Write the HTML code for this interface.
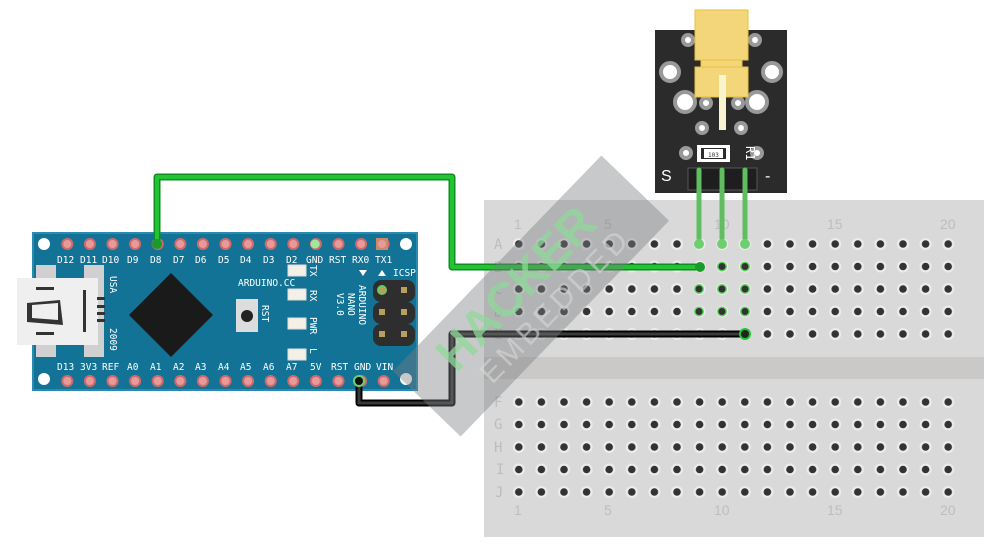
<!DOCTYPE html>
<html><head><style>
html,body{margin:0;padding:0;background:#fff;width:1003px;height:546px;overflow:hidden}
svg text{font-family:"DejaVu Sans Mono","Liberation Mono",monospace}
</style></head><body>
<svg width="1003" height="546" viewBox="0 0 1003 546" xmlns="http://www.w3.org/2000/svg">
<defs>
<pattern id="bb" x="507.5" y="0" width="22.6" height="600" patternUnits="userSpaceOnUse">
<circle cx="11.3" cy="244" r="6" fill="#ececec"/><circle cx="11.3" cy="244" r="3.8" fill="#333"/>
<circle cx="11.3" cy="266.5" r="6" fill="#ececec"/><circle cx="11.3" cy="266.5" r="3.8" fill="#333"/>
<circle cx="11.3" cy="289" r="6" fill="#ececec"/><circle cx="11.3" cy="289" r="3.8" fill="#333"/>
<circle cx="11.3" cy="311.5" r="6" fill="#ececec"/><circle cx="11.3" cy="311.5" r="3.8" fill="#333"/>
<circle cx="11.3" cy="334" r="6" fill="#ececec"/><circle cx="11.3" cy="334" r="3.8" fill="#333"/>
<circle cx="11.3" cy="402" r="6" fill="#ececec"/><circle cx="11.3" cy="402" r="3.8" fill="#333"/>
<circle cx="11.3" cy="424.5" r="6" fill="#ececec"/><circle cx="11.3" cy="424.5" r="3.8" fill="#333"/>
<circle cx="11.3" cy="447" r="6" fill="#ececec"/><circle cx="11.3" cy="447" r="3.8" fill="#333"/>
<circle cx="11.3" cy="469.5" r="6" fill="#ececec"/><circle cx="11.3" cy="469.5" r="3.8" fill="#333"/>
<circle cx="11.3" cy="492" r="6" fill="#ececec"/><circle cx="11.3" cy="492" r="3.8" fill="#333"/>
</pattern>
<pattern id="pt" x="56" y="0" width="22.6" height="600" patternUnits="userSpaceOnUse">
<circle cx="11.3" cy="244" r="6" fill="#d06a6a"/><circle cx="11.3" cy="244" r="4" fill="#e89a9a"/>
<circle cx="11.3" cy="381" r="6" fill="#d06a6a"/><circle cx="11.3" cy="381" r="4" fill="#e89a9a"/>
</pattern>
</defs>
<!-- breadboard -->
<rect x="484" y="200" width="500" height="337" fill="#d9d9d9"/>
<rect x="484" y="357" width="500" height="22" fill="#cbc9c7"/>
<rect x="507.5" y="230" width="452" height="300" fill="url(#bb)"/>
<g fill="#bdbdbd" font-size="14">
<text x="514" y="229" style="font-family:Liberation Sans">1</text><text x="604" y="229" style="font-family:Liberation Sans">5</text><text x="714" y="229" style="font-family:Liberation Sans">10</text><text x="827" y="229" style="font-family:Liberation Sans">15</text><text x="940" y="229" style="font-family:Liberation Sans">20</text>
<text x="514" y="515" style="font-family:Liberation Sans">1</text><text x="604" y="515" style="font-family:Liberation Sans">5</text><text x="714" y="515" style="font-family:Liberation Sans">10</text><text x="827" y="515" style="font-family:Liberation Sans">15</text><text x="940" y="515" style="font-family:Liberation Sans">20</text>
<g style="font-family:Liberation Sans">
<text x="494" y="249">A</text><text x="494" y="272">B</text><text x="494" y="294">C</text><text x="494" y="317">D</text><text x="494" y="339">E</text>
<text x="494" y="407">F</text><text x="494" y="429">G</text><text x="494" y="452">H</text><text x="496" y="474">I</text><text x="495" y="497">J</text></g>
</g>
<g fill="#5fd35f"><circle cx="699" cy="289" r="5"/><circle cx="722" cy="289" r="5"/><circle cx="745" cy="289" r="5"/><circle cx="699" cy="311.5" r="5"/><circle cx="722" cy="311.5" r="5"/><circle cx="745" cy="311.5" r="5"/><circle cx="722" cy="266.5" r="5"/><circle cx="745" cy="266.5" r="5"/></g>
<g fill="#333"><circle cx="699" cy="289" r="3.5"/><circle cx="722" cy="289" r="3.5"/><circle cx="745" cy="289" r="3.5"/><circle cx="699" cy="311.5" r="3.5"/><circle cx="722" cy="311.5" r="3.5"/><circle cx="745" cy="311.5" r="3.5"/><circle cx="722" cy="266.5" r="3.5"/><circle cx="745" cy="266.5" r="3.5"/></g>
<!-- laser module -->
<rect x="655" y="30" width="132" height="163" fill="#2b2b2b"/>
<g fill="#fff" stroke="#999" stroke-width="4">
<circle cx="688" cy="40" r="5"/><circle cx="755" cy="40" r="5"/>
<circle cx="670" cy="72" r="9"/><circle cx="772" cy="72" r="9"/>
<circle cx="685" cy="102" r="10"/><circle cx="757" cy="102" r="10"/>
<circle cx="706" cy="103" r="5"/><circle cx="738" cy="103" r="5"/>
<circle cx="702" cy="128" r="5"/><circle cx="741" cy="128" r="5"/>
<circle cx="686" cy="153" r="5"/><circle cx="757" cy="153" r="5"/>
</g>
<rect x="695" y="10" width="53" height="50" fill="#f3d57a" stroke="#e8c23e"/>
<rect x="701" y="60" width="41" height="8" fill="#f3d57a" stroke="#e8c23e"/>
<rect x="695" y="67" width="53" height="30" fill="#f3d57a" stroke="#e8c23e"/>
<rect x="719" y="75" width="7" height="55" fill="#f8f4d0"/>
<rect x="697" y="145" width="33" height="17" fill="#fff"/><rect x="701" y="148" width="25" height="11" fill="#2b2b2b"/><rect x="704" y="149" width="19" height="9" fill="#fff"/>
<text x="708" y="157" font-size="6" fill="#333">103</text>
<text x="733" y="147" font-size="12" fill="#fff" transform="rotate(90 740 153)">R1</text>
<text x="661" y="181" font-size="16" fill="#fff" style="font-family:Liberation Sans">S</text>
<text x="765" y="181" font-size="16" fill="#fff" style="font-family:Liberation Sans">-</text>
<rect x="688" y="168" width="69" height="22" fill="#1e1e1e" stroke="#555"/>
<!-- arduino -->
<rect x="33" y="233" width="384" height="157" fill="#137396" stroke="#2a8ab0" stroke-width="2"/>
<circle cx="44" cy="244" r="6" fill="#fff"/><circle cx="406" cy="244" r="6" fill="#fff"/>
<circle cx="44" cy="379" r="6" fill="#fff"/><circle cx="406" cy="379" r="6" fill="#fff"/>
<rect x="56" y="235" width="340" height="155" fill="url(#pt)"/>
<circle cx="315" cy="244" r="4.5" fill="#9ee89e"/>
<rect x="376" y="238" width="12" height="12" fill="#c98a6a"/><circle cx="382" cy="244" r="4" fill="#e89a9a"/>
<g fill="#fff" font-size="9.5">
<text x="57" y="263">D12</text><text x="80" y="263">D11</text><text x="102" y="263">D10</text><text x="127" y="263">D9</text><text x="150" y="263">D8</text><text x="173" y="263">D7</text><text x="195" y="263">D6</text><text x="218" y="263">D5</text><text x="240" y="263">D4</text><text x="263" y="263">D3</text><text x="286" y="263">D2</text><text x="306" y="263">GND</text><text x="329" y="263">RST</text><text x="352" y="263">RX0</text><text x="375" y="263">TX1</text>
<text x="57" y="370">D13</text><text x="80" y="370">3V3</text><text x="102" y="370">REF</text><text x="127" y="370">A0</text><text x="150" y="370">A1</text><text x="173" y="370">A2</text><text x="195" y="370">A3</text><text x="218" y="370">A4</text><text x="240" y="370">A5</text><text x="263" y="370">A6</text><text x="286" y="370">A7</text><text x="310" y="370">5V</text><text x="331" y="370">RST</text><text x="354" y="370">GND</text><text x="376" y="370">VIN</text>
<text x="238" y="286">ARDUINO.CC</text><text x="393" y="276">ICSP</text>
</g>
<g fill="#fff" font-size="9.5">
<text transform="translate(359,285) rotate(90)">ARDUINO</text>
<text transform="translate(348,293) rotate(90)">NANO</text>
<text transform="translate(337,293) rotate(90)">V3.0</text>
<text transform="translate(110,276) rotate(90)">USA</text>
<text transform="translate(110,328) rotate(90)">2009</text>
<text transform="translate(310,265) rotate(90)">TX</text>
<text transform="translate(310,290) rotate(90)">RX</text>
<text transform="translate(310,317) rotate(90)">PWR</text>
<text transform="translate(310,348) rotate(90)">L</text>
<text transform="translate(262,305) rotate(90)">RST</text>
</g>
<g fill="#f4f0e6" stroke="#ddd"><rect x="288" y="265" width="18" height="11"/><rect x="288" y="289" width="18" height="11"/><rect x="288" y="318" width="18" height="11"/><rect x="288" y="349" width="18" height="11"/></g>
<polygon points="359,270 367,270 363,276" fill="#fff"/><polygon points="378,276 386,276 382,270" fill="#fff"/>
<polygon points="171,273 213,315 171,357 129,315" fill="#1a1a1a"/>
<rect x="236" y="299" width="22" height="33" fill="#ddd"/><circle cx="247" cy="316" r="6" fill="#222"/>
<rect x="36" y="265" width="20" height="92" fill="#d0d0d0"/><rect x="84" y="265" width="20" height="92" fill="#d0d0d0"/>
<rect x="17" y="278" width="81" height="67" fill="#efefef"/>
<g fill="#333"><rect x="97" y="297" width="8" height="3"/><rect x="97" y="305" width="8" height="3"/><rect x="97" y="312" width="8" height="3"/><rect x="97" y="319" width="8" height="3"/><rect x="83" y="290" width="3" height="42"/>
<rect x="36" y="287" width="18" height="3"/><rect x="36" y="332" width="18" height="3"/><polygon points="27,303 60,300 63,325 27,322"/><polygon points="32,305 58,303 58,320 32,318" fill="#efefef"/></g>
<rect x="373" y="280" width="42" height="22" rx="8" fill="#2e2e2e"/><rect x="373" y="302" width="42" height="22" rx="8" fill="#2e2e2e"/><rect x="373" y="324" width="42" height="22" rx="8" fill="#2e2e2e"/>
<circle cx="382" cy="290" r="5" fill="#5fcf5f"/>
<g fill="#b89f5c"><rect x="379" y="287" width="6" height="6"/><rect x="401" y="287" width="6" height="6"/><rect x="379" y="309" width="6" height="6"/><rect x="401" y="309" width="6" height="6"/><rect x="379" y="331" width="6" height="6"/><rect x="401" y="331" width="6" height="6"/></g>
<!-- wires -->
<g fill="none" stroke-linejoin="round" stroke-linecap="round">
<g stroke="#5fbf5f" stroke-width="5"><line x1="699" y1="170" x2="699" y2="244"/><line x1="722" y1="170" x2="722" y2="244"/><line x1="745" y1="170" x2="745" y2="244"/></g>
<polyline points="157,244 157,177 452,177 452,267 700,267" stroke="#0f8f1f" stroke-width="7"/>
<polyline points="157,244 157,177 452,177 452,267 700,267" stroke="#22c433" stroke-width="4"/>
<polyline points="359,381 359,403 452,403 452,334 745,334" stroke="#000" stroke-width="7"/>
<polyline points="359,381 359,403 452,403 452,334 745,334" stroke="#3a3a3a" stroke-width="3"/>
</g>
<circle cx="157" cy="244" r="5" fill="#1a9a2a"/><circle cx="700" cy="267" r="5" fill="#1a9a2a"/>
<circle cx="359" cy="381" r="6" fill="#6fcf6f"/><circle cx="359" cy="381" r="4" fill="#111"/>
<circle cx="745" cy="334" r="6" fill="#22c433"/><circle cx="745" cy="334" r="4" fill="#222"/>
<g fill="#6fcf6f"><circle cx="699" cy="244" r="5"/><circle cx="722" cy="244" r="5"/><circle cx="745" cy="244" r="5"/></g>
<!-- watermark -->
<g transform="translate(531,296) rotate(-46)">
<rect x="-150" y="-47" width="300" height="94" fill="#7a7f80" opacity="0.42"/>
<text x="-5" y="0" text-anchor="middle" font-size="48" font-weight="bold" fill="#8fd99a" opacity="0.75" style="font-family:Liberation Sans">HACKER</text>
<text x="10" y="34" text-anchor="middle" font-size="30" fill="#d8d8d8" opacity="0.6" letter-spacing="4" style="font-family:Liberation Sans">EMBEDDED</text>
</g>
</svg>
</body></html>
